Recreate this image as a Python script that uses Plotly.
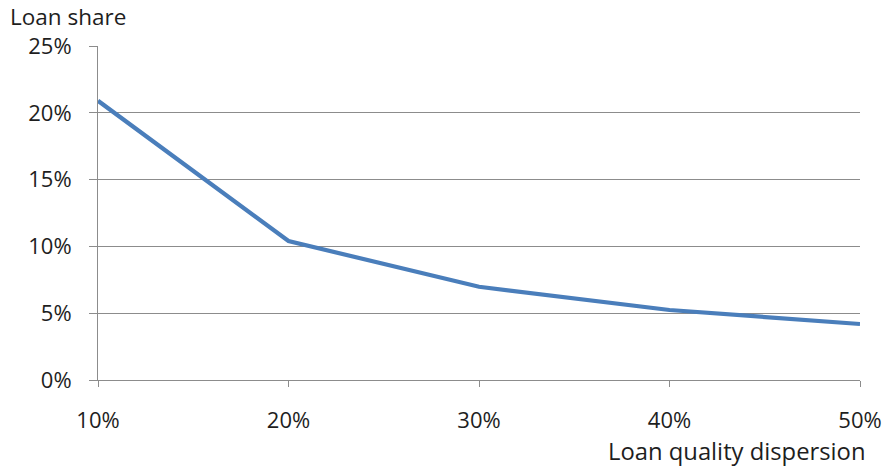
import plotly.graph_objects as go

# Loan quality dispersion (%) vs. loan share (%)
dispersion = [10, 20, 30, 40, 50]
loan_share = [20.9, 10.4, 6.98, 5.24, 4.19]
x_tick_labels = ["10%", "20%", "30%", "40%", "50%"]
y_tick_values = [0, 5, 10, 15, 20, 25]
y_tick_labels = ["0%", "5%", "10%", "15%", "20%", "25%"]

FONT = "'Open Sans', 'Noto Sans', sans-serif"
TEXT = "#1e1e1e"
GRID = "#8c8c8c"

fig = go.Figure(
    go.Scatter(
        x=dispersion,
        y=loan_share,
        mode="lines",
        line=dict(color="#4a7ebb", width=4.2),
        hoverinfo="skip",
    )
)

fig.update_layout(
    width=882,
    height=466,
    margin=dict(l=98, r=22, t=46, b=86),
    paper_bgcolor="white",
    plot_bgcolor="white",
    showlegend=False,
    font=dict(family=FONT, size=22, color=TEXT),
    xaxis=dict(
        range=[10, 50],
        tickvals=dispersion,
        ticktext=x_tick_labels,
        showgrid=False,
        zeroline=False,
        showline=True,
        linecolor=GRID,
        linewidth=1,
        ticks="outside",
        ticklen=6,
        tickcolor=GRID,
        ticklabelstandoff=15,
        automargin=False,
        tickfont=dict(family=FONT, size=22, color=TEXT),
    ),
    yaxis=dict(
        range=[0, 25],
        tickvals=y_tick_values,
        ticktext=y_tick_labels,
        showgrid=True,
        gridcolor=GRID,
        gridwidth=1,
        zeroline=False,
        showline=True,
        linecolor=GRID,
        linewidth=1,
        ticks="outside",
        ticklen=8,
        tickcolor=GRID,
        ticklabelstandoff=13,
        automargin=False,
        tickfont=dict(family=FONT, size=22, color=TEXT),
    ),
    annotations=[
        dict(
            text="Loan share",
            xref="paper", yref="paper",
            x=-89 / 762, y=1 + 30 / 334,
            xanchor="left", yanchor="middle",
            showarrow=False, borderpad=0,
            font=dict(family=FONT, size=22.5, color=TEXT),
        ),
        dict(
            text="Loan quality dispersion",
            xref="paper", yref="paper",
            x=1 + 7 / 762, y=-71 / 334,
            xanchor="right", yanchor="middle",
            showarrow=False, borderpad=0,
            font=dict(family=FONT, size=23.8, color=TEXT),
        ),
    ],
)

fig.write_html("out.html")
